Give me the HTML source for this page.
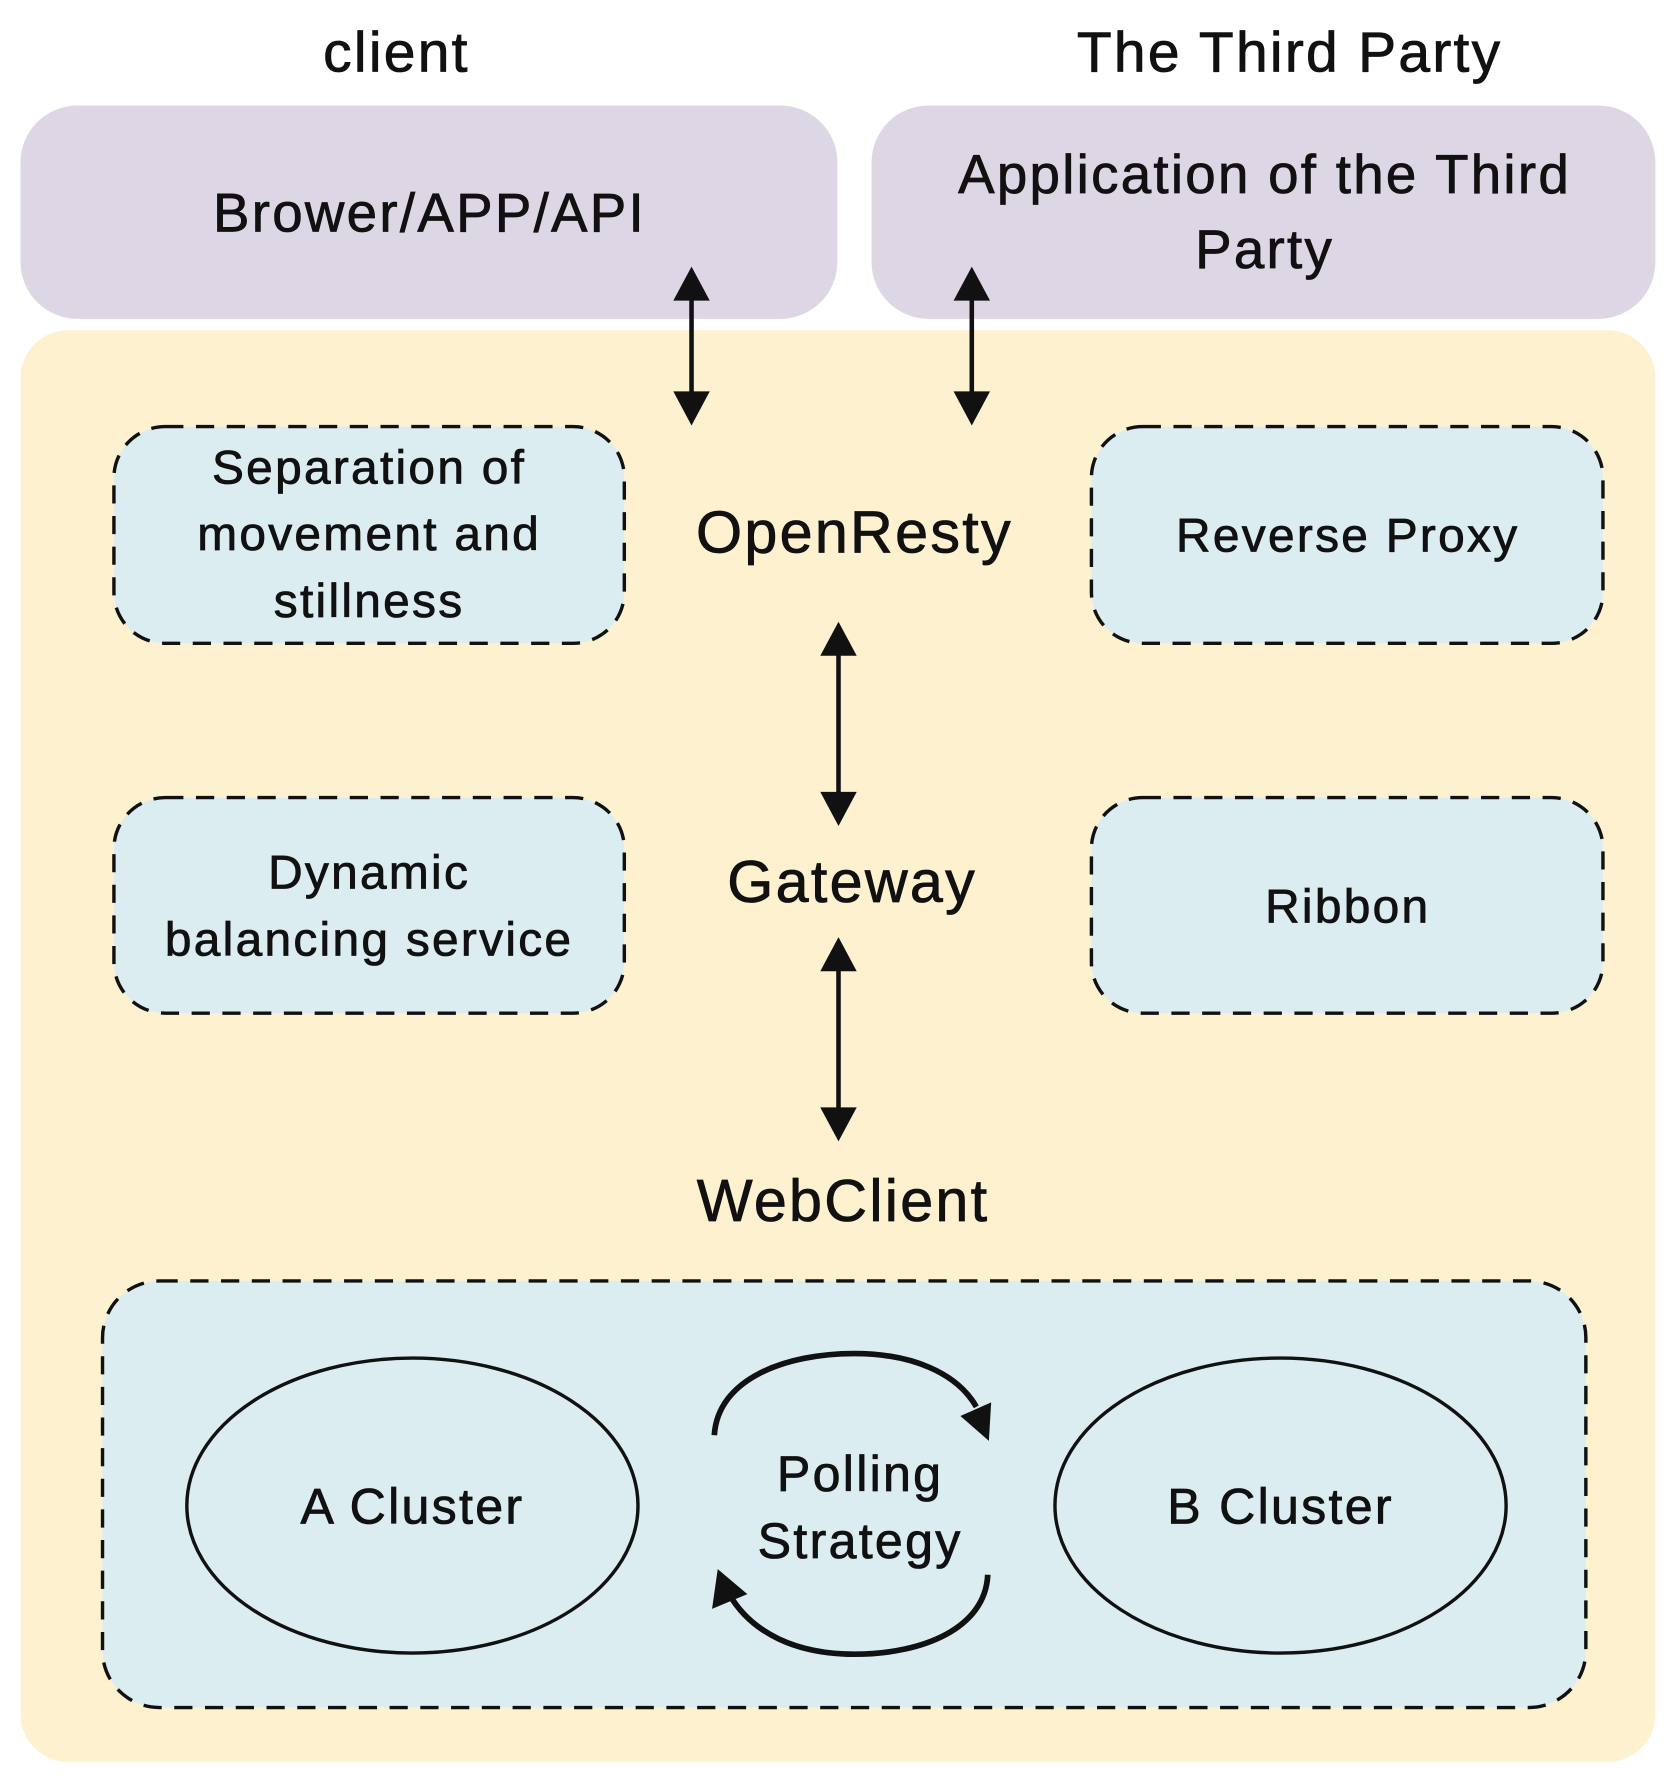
<!DOCTYPE html>
<html><head><meta charset="utf-8"><style>html,body{margin:0;padding:0;background:#fff}svg{display:block}text{letter-spacing:2px;stroke:#111;stroke-width:0.7}</style></head>
<body>
<svg width="1677" height="1779" viewBox="0 0 1472 1568" preserveAspectRatio="none" xmlns="http://www.w3.org/2000/svg" font-family="Liberation Sans, sans-serif" fill="#111">
<text x="348" y="63" font-size="50" text-anchor="middle">client</text>
<text x="1132" y="63" font-size="50" text-anchor="middle">The Third Party</text>
<rect x="18" y="93" width="717" height="188" rx="50" fill="#DDD7E5"/>
<rect x="765" y="93" width="688" height="188" rx="50" fill="#DDD7E5"/>
<text x="377" y="204" font-size="48" text-anchor="middle">Brower/APP/API</text>
<text x="1110" y="170" font-size="48" text-anchor="middle">Application of the Third</text>
<text x="1110" y="236" font-size="48" text-anchor="middle">Party</text>
<rect x="18" y="291" width="1435" height="1262" rx="42" fill="#FEF1D0"/>
<g fill="#DCEDF2" stroke="#111" stroke-width="3" stroke-dasharray="16,11">
<rect x="100" y="376" width="448" height="191" rx="45"/>
<rect x="958" y="376" width="449" height="191" rx="45"/>
<rect x="100" y="703" width="448" height="190" rx="45"/>
<rect x="958" y="703" width="449" height="190" rx="45"/>
<rect x="90" y="1129" width="1302" height="376" rx="50"/>
</g>
<g font-size="42" text-anchor="middle">
<text x="324" y="426">Separation of</text>
<text x="324" y="485">movement and</text>
<text x="324" y="544">stillness</text>
<text x="1183" y="486">Reverse Proxy</text>
<text x="324" y="783">Dynamic</text>
<text x="324" y="842">balancing service</text>
<text x="1183" y="813">Ribbon</text>
</g>
<g font-size="52" text-anchor="middle">
<text x="750" y="487">OpenResty</text>
<text x="748" y="795">Gateway</text>
<text x="740" y="1076">WebClient</text>
</g>
<g stroke="#111" stroke-width="4">
<line x1="607" y1="258" x2="607" y2="352"/>
<line x1="853" y1="258" x2="853" y2="352"/>
<line x1="736" y1="572" x2="736" y2="705"/>
<line x1="736" y1="850" x2="736" y2="983"/>
</g>
<g fill="#111">
<polygon points="607,235 591,265 623,265"/><polygon points="607,375 591,345 623,345"/>
<polygon points="853,235 837,265 869,265"/><polygon points="853,375 837,345 869,345"/>
<polygon points="736,548 720,578 752,578"/><polygon points="736,728 720,698 752,698"/>
<polygon points="736,826 720,856 752,856"/><polygon points="736,1006 720,976 752,976"/>
</g>
<g fill="none" stroke="#111" stroke-width="3">
<ellipse cx="362" cy="1327" rx="198" ry="130"/>
<ellipse cx="1124" cy="1327" rx="198" ry="130"/>
</g>
<g fill="none" stroke="#111" stroke-width="5">
<path d="M627,1265 C630,1215 690,1193 750,1193 C800,1193 840,1210 857,1240"/>
<path d="M867,1388 C865,1435 810,1458 750,1458 C700,1458 660,1440 640,1405"/>
</g>
<polygon points="870,1236 868,1270 843,1248" fill="#111"/>
<polygon points="625,1418 630,1383 656,1405" fill="#111"/>
<g font-size="44" text-anchor="middle">
<text x="362" y="1343">A Cluster</text>
<text x="1124" y="1343">B Cluster</text>
<text x="755" y="1314">Polling</text>
<text x="755" y="1373">Strategy</text>
</g>
</svg>
</body></html>
